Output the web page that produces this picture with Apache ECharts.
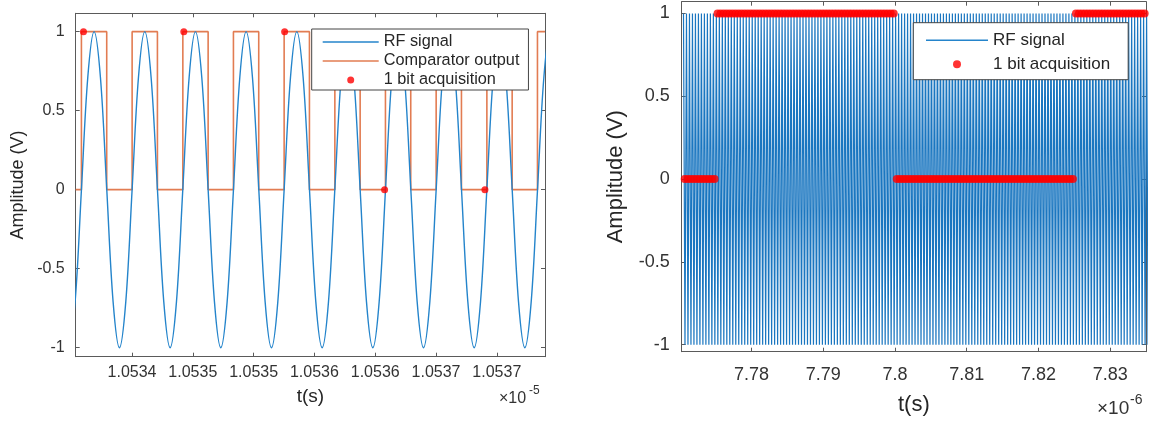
<!DOCTYPE html>
<html><head><meta charset="utf-8">
<script src="https://cdn.jsdelivr.net/npm/echarts@6/dist/echarts.min.js"></script>
<style>html,body{margin:0;padding:0;background:#fff}#c{width:1153px;height:423px}</style>
</head><body><div id="c"></div>
<script>
// ===== Left panel: a few RF periods (time in units of 1e-5 s) =====
const rf1Start = 1.0533480;      // time of first RF sample
const rf1Step = 0.0000052088;    // RF sample spacing (1/8 of the 2.4 GHz period)
const rf1Values = [
  -1,-0.71,0,0.71,1,0.71,0,-0.71,
  -1,-0.71,0,0.71,1,0.71,0,-0.71,
  -1,-0.71,0,0.71,1,0.71,0,-0.71,
  -1,-0.71,0,0.71,1,0.71,0,-0.71,
  -1,-0.71,0,0.71,1,0.71,0,-0.71,
  -1,-0.71,0,0.71,1,0.71,0,-0.71,
  -1,-0.71,0,0.71,1,0.71,0,-0.71,
  -1,-0.71,0,0.71,1,0.71,0,-0.71,
  -1,-0.71,0,0.71,1,0.71,0,-0.71,
  -1,-0.71,0,0.71,1,0.71,0,-0.71,
  -1
];
const compTimes = [1.0533537,1.0533584,1.0533792,1.0534001,1.0534209,1.0534418,1.0534626,
  1.0534834,1.0535042,1.0535251,1.0535459,1.0535668,1.0535876,1.0536084,1.0536292,
  1.0536501,1.0536709,1.0536918,1.0537126,1.0537334,1.0537396];
const compLevels = [0,1,0,1,0,1,0,1,0,1,0,1,0,1,0,1,0,1,0,1,1];
const acq1Times = [1.0533601,1.0534426,1.0535255,1.0536077,1.0536902];
const acq1Bits = [1,1,1,0,0];
const x1Min = 1.0533537, x1Max = 1.0537396;
const x1Ticks = [1.05340,1.05345,1.05350,1.05355,1.05360,1.05365,1.05370];
const x1TickLabels = ['1.0534','1.0535','1.0535','1.0536','1.0536','1.0537','1.0537'];
const y1Min = -1.057, y1Max = 1.116;

// ===== Right panel: long record (time in units of 1e-6 s) =====
const rf2Start = 7.7705;         // time of first RF sample
const rf2Step = 0.00020833;      // RF sample spacing (half period, peaks and troughs)
const rf2Values = [
  1,-1,1,-1,1,-1,1,-1,1,-1,1,-1,1,-1,1,-1,1,-1,1,-1,1,-1,1,-1,1,-1,
  1,-1,1,-1,1,-1,1,-1,1,-1,1,-1,1,-1,1,-1,1,-1,1,-1,1,-1,1,-1,1,-1,
  1,-1,1,-1,1,-1,1,-1,1,-1,1,-1,1,-1,1,-1,1,-1,1,-1,1,-1,1,-1,1,-1,
  1,-1,1,-1,1,-1,1,-1,1,-1,1,-1,1,-1,1,-1,1,-1,1,-1,1,-1,1,-1,1,-1,
  1,-1,1,-1,1,-1,1,-1,1,-1,1,-1,1,-1,1,-1,1,-1,1,-1,1,-1,1,-1,1,-1,
  1,-1,1,-1,1,-1,1,-1,1,-1,1,-1,1,-1,1,-1,1,-1,1,-1,1,-1,1,-1,1,-1,
  1,-1,1,-1,1,-1,1,-1,1,-1,1,-1,1,-1,1,-1,1,-1,1,-1,1,-1,1,-1,1,-1,
  1,-1,1,-1,1,-1,1,-1,1,-1,1,-1,1,-1,1,-1,1,-1,1,-1,1,-1,1,-1,1,-1,
  1,-1,1,-1,1,-1,1,-1,1,-1,1,-1,1,-1,1,-1,1,-1,1,-1,1,-1,1,-1,1,-1,
  1,-1,1,-1,1,-1,1,-1,1,-1,1,-1,1,-1,1,-1,1,-1,1,-1,1,-1,1,-1,1,-1,
  1,-1,1,-1,1,-1,1,-1,1,-1,1,-1,1,-1,1,-1,1,-1,1,-1,1,-1,1,-1,1,-1,
  1,-1,1,-1,1,-1,1,-1,1,-1,1,-1,1,-1,1,-1,1,-1,1,-1,1,-1,1,-1,1,-1
];
const acq2Start = 7.77067;       // first 1-bit sample time
const acq2Step = 0.0004165;      // 1-bit sampling period
const acq2Bits = [
  0,0,0,0,0,0,0,0,0,0,0,
  1,1,1,1,1,1,1,1,1,1,1,1,1,1,1,1,1,1,1,1,1,1,1,1,1,1,1,1,1,1,
  1,1,1,1,1,1,1,1,1,1,1,1,1,1,1,1,1,1,1,1,1,1,1,1,1,1,1,1,1,1,
  0,0,0,0,0,0,0,0,0,0,0,0,0,0,0,0,0,0,0,0,0,0,0,0,0,0,0,0,0,0,
  0,0,0,0,0,0,0,0,0,0,0,0,0,0,0,0,0,0,0,0,0,0,0,0,0,0,0,0,0,0,
  1,1,1,1,1,1,1,1,1,1,1,1,1,1,1,1,1,1,1,1,1,1,1,1
];
const x2Min = 7.77025, x2Max = 7.8350;
const x2Ticks = [7.78,7.79,7.80,7.81,7.82,7.83];
const x2TickLabels = ['7.78','7.79','7.8','7.81','7.82','7.83'];
const y2Min = -1.042, y2Max = 1.071;

const yTicks = [-1,-0.5,0,0.5,1];
const yTickLabels = ['-1','-0.5','0','0.5','1'];

// ===== build =====
const FONT = '"Liberation Sans", Arial, Helvetica, sans-serif';
const TXT = '#333333';
const FRAME = '#5a5a5a';
function lab(ticks, labels) {
  return function (v) {
    for (let i = 0; i < ticks.length; i++) if (Math.abs(v - ticks[i]) < 1e-9) return labels[i];
    return '';
  };
}
function xAx(grid, pos, min, max, ticks, labels, show, fs, margin, name, nameFs, nameGap) {
  return {
    type: 'value', gridIndex: grid, position: pos, min: min, max: max,
    axisLine: { show: true, onZero: false, lineStyle: { color: FRAME, width: 1 } },
    axisTick: { show: true, inside: true, length: 4, customValues: ticks, lineStyle: { color: FRAME } },
    axisLabel: { show: show, customValues: ticks, formatter: lab(ticks, labels), fontSize: fs, fontFamily: FONT, color: TXT, margin: margin },
    splitLine: { show: false },
    name: show ? name : '', nameLocation: 'middle', nameGap: nameGap,
    nameTextStyle: { fontSize: nameFs, fontFamily: FONT, color: '#262626' }
  };
}
function yAx(grid, pos, min, max, show, fs, margin, name, nameFs, nameGap) {
  return {
    type: 'value', gridIndex: grid, position: pos, min: min, max: max,
    axisLine: { show: true, onZero: false, lineStyle: { color: FRAME, width: 1 } },
    axisTick: { show: true, inside: true, length: 4, customValues: yTicks, lineStyle: { color: FRAME } },
    axisLabel: { show: show, customValues: yTicks, formatter: lab(yTicks, yTickLabels), fontSize: fs, fontFamily: FONT, color: TXT, margin: margin },
    splitLine: { show: false },
    name: show ? name : '', nameLocation: 'middle', nameGap: nameGap, nameRotate: 90,
    nameTextStyle: { fontSize: nameFs, fontFamily: FONT, color: '#262626' }
  };
}

const rf1Data = rf1Values.map((v, i) => [rf1Start + i * rf1Step, v]);
const compData = compTimes.map((t, i) => [t, compLevels[i]]);
const acq1Data = acq1Times.map((t, i) => [t, acq1Bits[i]]);
const rf2Data = rf2Values.map((v, i) => [rf2Start + i * rf2Step, v]);
const acq2Data = acq2Bits.map((b, i) => [acq2Start + i * acq2Step, b]);

const BLUE = '#2484cb', ORANGE = '#e27c52', RED = '#ff0000';
const lineIcon = w => 'path://M0,0L' + w + ',0L' + w + ',1.4L0,1.4Z';
const dotIcon = (w, h, r) => 'path://M0,0M' + w + ',' + h + 'M' + (w / 2 - r) + ',' + (h / 2) +
  'A' + r + ',' + r + ',0,1,1,' + (w / 2 + r) + ',' + (h / 2) + 'A' + r + ',' + r + ',0,1,1,' + (w / 2 - r) + ',' + (h / 2) + 'Z';

const option = {
  animation: false,
  backgroundColor: '#ffffff',
  grid: [
    { left: 75.7, top: 13.3, width: 469.3, height: 343.4, containLabel: false },
    { left: 681.7, top: 1.7, width: 464.3, height: 350, containLabel: false }
  ],
  xAxis: [
    xAx(0, 'bottom', x1Min, x1Max, x1Ticks, x1TickLabels, true, 16, 8, 't(s)', 19, 31),
    xAx(0, 'top', x1Min, x1Max, x1Ticks, x1TickLabels, false, 16, 8, '', 19, 30),
    xAx(1, 'bottom', x2Min, x2Max, x2Ticks, x2TickLabels, true, 18, 14, 't(s)', 22, 42),
    xAx(1, 'top', x2Min, x2Max, x2Ticks, x2TickLabels, false, 18, 8, '', 22, 30)
  ],
  yAxis: [
    yAx(0, 'left', y1Min, y1Max, true, 16, 11, 'Amplitude (V)', 18, 49),
    yAx(0, 'right', y1Min, y1Max, false, 16, 11, '', 18, 49),
    yAx(1, 'left', y2Min, y2Max, true, 18, 12, 'Amplitude (V)', 22, 55),
    yAx(1, 'right', y2Min, y2Max, false, 18, 12, '', 22, 55)
  ],
  legend: [
    {
      orient: 'vertical', left: 311.7, top: 29, itemWidth: 56, itemHeight: 14, itemGap: 3,
      padding: [5, 9, 2, 11], backgroundColor: '#ffffff', borderColor: '#444444', borderWidth: 1,
      textStyle: { fontSize: 16.3, fontFamily: FONT, color: '#262626' }, itemStyle: { borderWidth: 0 },
      selectedMode: false,
      data: [
        { name: 'RF signal', icon: lineIcon(56) },
        { name: 'Comparator output', icon: lineIcon(56) },
        { name: '1 bit acquisition', icon: dotIcon(56, 14, 3.5) }
      ]
    },
    {
      orient: 'vertical', left: 913.3, top: 22.7, itemWidth: 62, itemHeight: 14, itemGap: 7,
      padding: [9, 18, 7, 12.7], backgroundColor: '#ffffff', borderColor: '#444444', borderWidth: 1,
      textStyle: { fontSize: 17, fontFamily: FONT, color: '#262626' }, itemStyle: { borderWidth: 0 },
      selectedMode: false,
      data: [
        { name: 'RF signal', icon: lineIcon(62) },
        { name: '1 bit acquisition', icon: dotIcon(62, 14, 4) }
      ]
    }
  ],
  graphic: [
    { type: 'text', x: 499, y: 399, style: { text: '×10', fontSize: 16, fontFamily: FONT, fill: TXT, align: 'left', verticalAlign: 'middle' } },
    { type: 'text', x: 529, y: 391, style: { text: '-5', fontSize: 12, fontFamily: FONT, fill: TXT, align: 'left', verticalAlign: 'middle' } },
    { type: 'text', x: 1097, y: 409, style: { text: '×10', fontSize: 19, fontFamily: FONT, fill: TXT, align: 'left', verticalAlign: 'middle' } },
    { type: 'text', x: 1130, y: 400, style: { text: '-6', fontSize: 14, fontFamily: FONT, fill: TXT, align: 'left', verticalAlign: 'middle' } }
  ],
  series: [
    { name: 'RF signal', type: 'line', xAxisIndex: 0, yAxisIndex: 0, data: rf1Data, smooth: 0.35,
      symbol: 'none', color: BLUE, lineStyle: { color: BLUE, width: 1.4 }, z: 3 },
    { name: 'Comparator output', type: 'line', xAxisIndex: 0, yAxisIndex: 0, data: compData, step: 'end',
      symbol: 'none', color: ORANGE, lineStyle: { color: ORANGE, width: 1.6 }, z: 2 },
    { name: '1 bit acquisition', type: 'scatter', xAxisIndex: 0, yAxisIndex: 0, data: acq1Data,
      symbol: 'circle', symbolSize: 7, itemStyle: { color: RED }, z: 4 },
    { name: 'RF signal', type: 'line', xAxisIndex: 2, yAxisIndex: 2, data: rf2Data,
      symbol: 'none', color: BLUE, lineStyle: { color: '#1a76c0', width: 1.2 }, z: 3 },
    { name: '1 bit acquisition', type: 'scatter', xAxisIndex: 2, yAxisIndex: 2, data: acq2Data,
      symbol: 'circle', symbolSize: 8, itemStyle: { color: RED }, z: 4 }
  ]
};
const chart = echarts.init(document.getElementById('c'), null, { renderer: 'canvas' });
chart.setOption(option);
</script>
</body></html>
